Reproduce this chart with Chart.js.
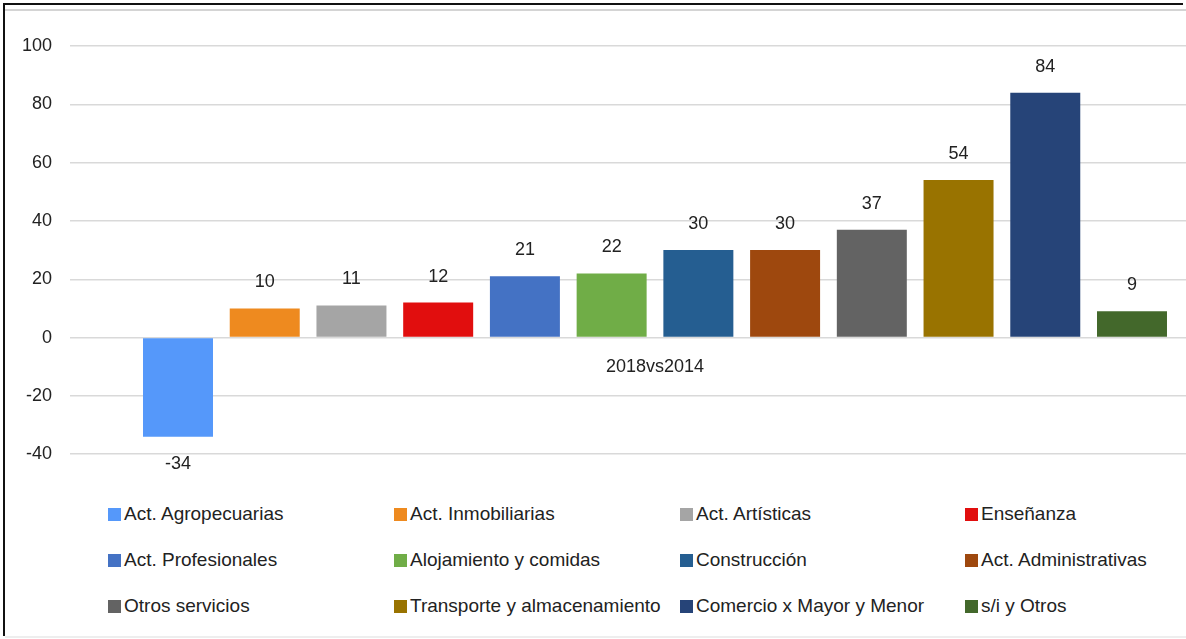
<!doctype html>
<html lang="es">
<head>
<meta charset="utf-8">
<title>2018vs2014</title>
<script src="https://cdn.jsdelivr.net/npm/chart.js@4.4.1/dist/chart.umd.min.js"></script>
<style>
  html, body { margin: 0; padding: 0; background: #fff; overflow: hidden; }
  body { width: 1186px; height: 639px; position: relative;
         font-family: 'Liberation Sans Narrow', 'Arial Narrow', 'Liberation Sans', sans-serif; }
  #chartBox { position: absolute; left: 0; top: 0; width: 1250px; height: 483px; }
  #frame { position: absolute; left: 3px; top: 3px; width: 1178px; height: 631px;
           border-left: 2px solid #111; border-top: 2px solid #111; pointer-events: none; }
  #topLine { position: absolute; left: 5px; top: 9px; width: 1181px; height: 2px; background: #d4d4d4; }
  #bottomLine { position: absolute; left: 5px; top: 636px; width: 1181px; height: 2px; background: #eeeeee; }
  #legend { position: absolute; left: 0; top: 0; }
  .item { position: absolute; display: flex; align-items: center; font-size: 19px; color: #222; white-space: nowrap; }
  .item span.box { display: inline-block; width: 13px; height: 13px; margin-right: 3px; }
</style>
</head>
<body>
<div id="chartBox"><canvas id="myChart"></canvas></div>
<div id="topLine"></div>
<div id="bottomLine"></div>
<div id="legend"></div>
<div id="frame"></div>
<script>
  // datos
  const categories = ["2018vs2014"];
  const sectors = [
    "Act. Agropecuarias", "Act. Inmobiliarias", "Act. Artísticas", "Enseñanza",
    "Act. Profesionales", "Alojamiento y comidas", "Construcción", "Act. Administrativas",
    "Otros servicios", "Transporte y almacenamiento", "Comercio x Mayor y Menor", "s/i y Otros"
  ];
  const values = [-34, 10, 11, 12, 21, 22, 30, 30, 37, 54, 84, 9];
  const colors = [
    "#5598FA", "#EE8A1F", "#A5A5A5", "#E10E0E",
    "#4472C4", "#70AD47", "#255E91", "#9E480E",
    "#636363", "#997300", "#264478", "#43682B"
  ];
  const yTicks = [-40, -20, 0, 20, 40, 60, 80, 100];

  const FONT = "'Liberation Sans Narrow', 'Arial Narrow', 'Liberation Sans', sans-serif";

  // etiquetas de valor y de categoria
  const labelPlugin = {
    id: 'labelPlugin',
    afterDatasetsDraw(chart) {
      const ctx = chart.ctx;
      ctx.save();
      ctx.font = "18px " + FONT;
      ctx.fillStyle = "#222";
      ctx.textAlign = "center";
      ctx.textBaseline = "middle";
      chart.data.datasets.forEach((ds, i) => {
        const bar = chart.getDatasetMeta(i).data[0];
        const v = ds.data[0];
        const y = v >= 0 ? bar.y - 26 : bar.y + 27;
        ctx.fillText(String(v), bar.x, y);
      });
      const x = chart.scales.x.getPixelForTick(0);
      const y0 = chart.scales.y.getPixelForValue(0);
      ctx.fillText(categories[0], x, y0 + 29);
      ctx.restore();
    }
  };

  const datasets = sectors.map((name, i) => ({
    label: name,
    data: [values[i]],
    backgroundColor: colors[i],
    borderWidth: 0,
    barPercentage: 0.807,
    categoryPercentage: 0.8895
  }));

  const ctx = document.getElementById('myChart');
  new Chart(ctx, {
    type: 'bar',
    data: { labels: categories, datasets: datasets },
    plugins: [labelPlugin],
    options: {
      responsive: true,
      maintainAspectRatio: false,
      animation: false,
      layout: { padding: { top: 46, bottom: 21, left: 4, right: 10 } },
      plugins: { legend: { display: false }, tooltip: { enabled: false } },
      scales: {
        x: { display: false },
        y: {
          min: yTicks[0],
          max: yTicks[yTicks.length - 1],
          afterFit(scale) { scale.width = 66; },
          afterBuildTicks(scale) { scale.ticks = yTicks.map(v => ({ value: v })); },
          border: { display: false },
          grid: { color: "#d9d9d9", lineWidth: 1.5, drawTicks: false },
          ticks: { padding: 18, color: "#222", font: { size: 18, family: FONT } }
        }
      }
    }
  });

  // leyenda en 4 columnas
  const legend = document.getElementById('legend');
  const colX = [108, 394, 680, 965];
  const rowY = [514, 560, 606];
  sectors.forEach((name, i) => {
    const d = document.createElement('div');
    d.className = 'item';
    d.style.left = colX[i % 4] + 'px';
    d.style.top = (rowY[Math.floor(i / 4)] - 12) + 'px';
    d.style.height = '24px';
    d.innerHTML = '<span class="box" style="background:' + colors[i] + '"></span>' + name;
    legend.appendChild(d);
  });
</script>
</body>
</html>
